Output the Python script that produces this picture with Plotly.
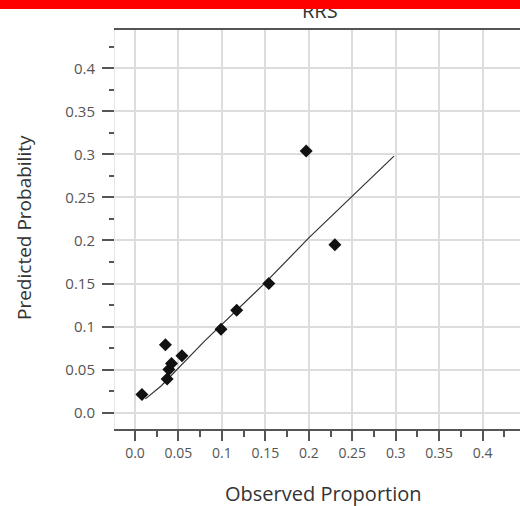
import plotly.graph_objects as go

# Data
observed = [0.008, 0.035, 0.037, 0.039, 0.042, 0.054, 0.099, 0.117, 0.154, 0.197, 0.230]
predicted = [0.021, 0.079, 0.039, 0.050, 0.057, 0.066, 0.097, 0.119, 0.150, 0.304, 0.195]
fit_x = [0.012, 0.03, 0.08, 0.15, 0.2, 0.298]
fit_y = [0.016, 0.031, 0.083, 0.151, 0.203, 0.298]
tick_vals = [0, 0.05, 0.1, 0.15, 0.2, 0.25, 0.3, 0.35, 0.4]
tick_text = ["0.0", "0.05", "0.1", "0.15", "0.2", "0.25", "0.3", "0.35", "0.4"]
minor_vals = [0.025, 0.075, 0.125, 0.175, 0.225, 0.275, 0.325, 0.375, 0.425]
title_text = "RRS"
x_title = "Observed Proportion"
y_title = "Predicted Probability"

FONT = "Open Sans"
W, H = 520, 506
ML, MR, MT, MB = 115, 0, 30, 77
PW, PH = W - ML - MR, H - MT - MB

def px_x(p):
    return (p - ML) / PW

def px_y(p):
    return (H - MB - p) / PH

fig = go.Figure()
fig.add_trace(go.Scatter(x=fit_x, y=fit_y, mode="lines",
                         line=dict(color="#333333", width=1.2),
                         showlegend=False, hoverinfo="skip"))
fig.add_trace(go.Scatter(x=observed, y=predicted, mode="markers",
                         marker=dict(symbol="diamond", size=10, color="#111111"),
                         showlegend=False))

axis_common = dict(
    tickmode="array", tickvals=tick_vals, ticktext=tick_text,
    showgrid=True, gridcolor="#dddddd", gridwidth=1.5,
    zeroline=False,
    ticks="outside", tickcolor="#555555", tickwidth=1.5,
)

fig.update_xaxes(**axis_common, range=[-0.023, 0.443], ticklen=10,
                 tickfont=dict(family=FONT, size=14, color="#555555"),
                 showline=True, linecolor="#555555", linewidth=2, mirror=True,
                 minor=dict(tickvals=minor_vals, ticks="outside", ticklen=6,
                            tickcolor="#555555", tickwidth=1.5, showgrid=False))
fig.update_yaxes(**axis_common, range=[-0.019, 0.4445], ticklen=12,
                 tickfont=dict(family=FONT, size=15, color="#555555"),
                 ticklabelstandoff=4,
                 showline=True, linecolor="#e6e6e6", linewidth=1,
                 minor=dict(tickvals=minor_vals, ticks="outside", ticklen=5,
                            tickcolor="#555555", tickwidth=1.5, showgrid=False))

annotations = [
    dict(text=title_text, xref="paper", yref="paper", x=px_x(320), y=px_y(10),
         xanchor="center", yanchor="middle", showarrow=False,
         font=dict(family=FONT, size=20, color="#333333")),
    dict(text=" ", xref="paper", yref="paper", x=px_x(260), y=px_y(0),
         xanchor="center", yanchor="top", showarrow=False,
         width=560, height=9, bgcolor="#ff0000", borderpad=0, borderwidth=0,
         font=dict(size=4)),
    dict(text=x_title, xref="paper", yref="paper", x=px_x(323), y=px_y(493),
         xanchor="center", yanchor="middle", showarrow=False,
         font=dict(family=FONT, size=20, color="#333333")),
    dict(text=y_title, xref="paper", yref="paper", x=px_x(24), y=px_y(228),
         xanchor="center", yanchor="middle", showarrow=False, textangle=-90,
         font=dict(family=FONT, size=19, color="#333333")),
]

fig.update_layout(
    width=W, height=H, autosize=False,
    margin=dict(l=ML, r=MR, t=MT, b=MB, pad=0),
    paper_bgcolor="white", plot_bgcolor="white",
    annotations=annotations,
    showlegend=False,
)

fig.write_html("out.html", config={"displayModeBar": False},
               post_script="document.body.style.margin='0px';")
